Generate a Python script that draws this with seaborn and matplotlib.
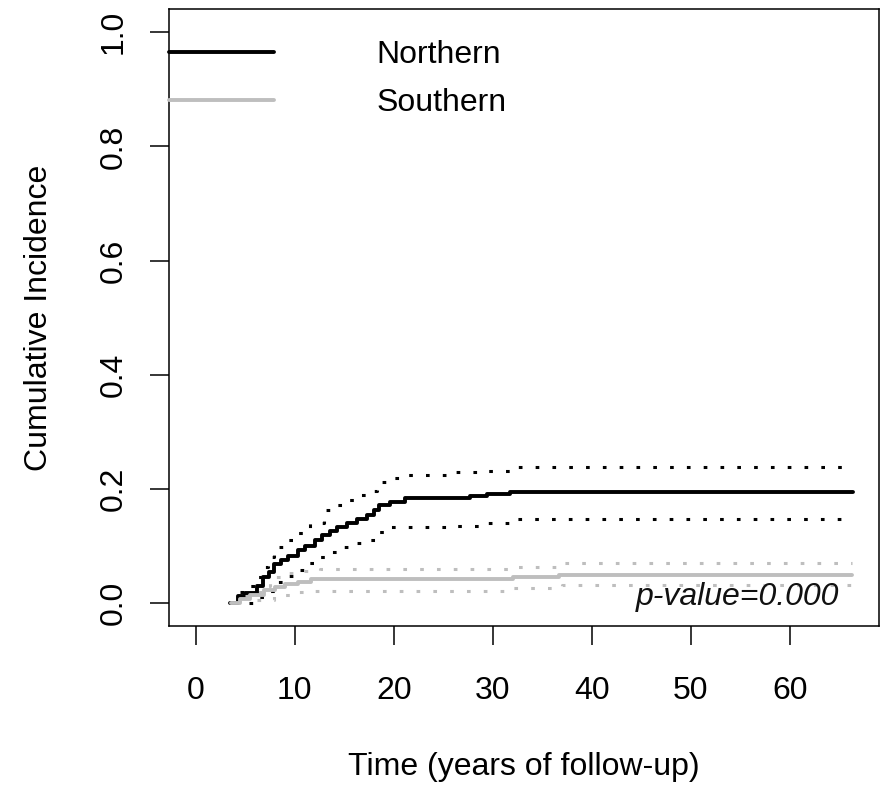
import pandas as pd
import matplotlib
matplotlib.use("Agg")
import matplotlib.pyplot as plt
import seaborn as sns

# Cumulative incidence curves
north_t = [3.5, 4.3, 5.0, 6.2, 6.8, 7.4, 7.9, 8.6, 9.3, 10.3, 11.0, 12.0, 12.8, 13.6, 14.3,
           15.3, 16.3, 17.3, 18.0, 18.5, 19.6, 21.1, 27.7, 29.4, 31.7, 66.4]
north_y = [0.0, 0.012, 0.017, 0.030, 0.045, 0.055, 0.068, 0.075, 0.083, 0.093, 0.100, 0.111,
           0.120, 0.127, 0.134, 0.140, 0.148, 0.155, 0.163, 0.172, 0.178, 0.185, 0.188, 0.192,
           0.195, 0.195]
north_up_t = [4.5, 5.2, 6.0, 6.7, 7.3, 7.9, 9.0, 10.3, 11.5, 13.0, 14.0, 15.0, 16.5, 17.6,
              18.3, 19.6, 21.0, 25.7, 29.0, 32.0, 66.4]
north_up_y = [0.020, 0.030, 0.045, 0.063, 0.080, 0.099, 0.110, 0.123, 0.140, 0.164, 0.172,
              0.181, 0.190, 0.197, 0.213, 0.220, 0.224, 0.229, 0.232, 0.239, 0.239]
north_lo_t = [5.4, 6.4, 7.2, 8.2, 9.2, 10.3, 11.3, 12.3, 13.5, 15.0, 16.0, 17.3, 18.3, 19.6,
              21.1, 26.0, 29.0, 32.0, 66.4]
north_lo_y = [0.0, 0.010, 0.022, 0.037, 0.048, 0.058, 0.070, 0.081, 0.090, 0.099, 0.105,
              0.111, 0.125, 0.134, 0.134, 0.136, 0.141, 0.148, 0.148]

south_t = [3.6, 4.5, 5.5, 6.9, 8.0, 9.0, 10.3, 11.6, 32.0, 36.7, 66.3]
south_y = [0.0, 0.008, 0.015, 0.023, 0.028, 0.033, 0.037, 0.042, 0.046, 0.049, 0.049]
south_up_t = [5.0, 6.5, 7.5, 8.6, 10.5, 12.6, 32.0, 37.0, 66.3]
south_up_y = [0.012, 0.030, 0.045, 0.053, 0.057, 0.060, 0.063, 0.070, 0.070]
south_lo_t = [6.2, 7.9, 9.6, 11.6, 32.0, 37.0, 66.3]
south_lo_y = [0.005, 0.014, 0.019, 0.021, 0.026, 0.032, 0.032]

groups = ["Northern", "Southern"]
x_ticks = [0, 10, 20, 30, 40, 50, 60]
y_ticks = [0.0, 0.2, 0.4, 0.6, 0.8, 1.0]
p_text = "p-value=0.000"

sns.set_style("ticks")
plt.rcParams["font.family"] = ["Liberation Sans", "DejaVu Sans"]
plt.rcParams["font.size"] = 23
plt.rcParams["text.color"] = "black"
plt.rcParams["axes.labelcolor"] = "black"

colors = {"Northern": "black", "Southern": "#BEBEBE"}
curves = {
    "Northern": [(north_t, north_y), (north_up_t, north_up_y), (north_lo_t, north_lo_y)],
    "Southern": [(south_t, south_y), (south_up_t, south_up_y), (south_lo_t, south_lo_y)],
}

fig = plt.figure(figsize=(8.87, 7.87), dpi=100)
ax = fig.add_axes([0.1905, 0.2046, 0.8005, 0.7834])

for g in groups:
    for i, (t, y) in enumerate(curves[g]):
        df = pd.DataFrame({"time": t, "ci": y})
        if i == 0:
            sns.lineplot(data=df, x="time", y="ci", ax=ax, color=colors[g], lw=2.8,
                         estimator=None, sort=False, drawstyle="steps-post", label=g)
        else:
            # confidence bands: R-style dotted lines
            sns.lineplot(data=df, x="time", y="ci", ax=ax, color=colors[g], lw=2.2,
                         estimator=None, sort=False, drawstyle="steps-post")
            ax.lines[-1].set_dashes((1.2, 4.3))

ax.set_xlim(-2.7, 69.0)
ax.set_ylim(-0.04, 1.04)
ax.set_xticks(x_ticks)
ax.set_yticks(y_ticks)
ax.set_xticklabels([str(v) for v in x_ticks])
ax.set_yticklabels([f"{v:.1f}" for v in y_ticks])
ax.tick_params(axis="both", length=14, width=1.1, labelsize=23, colors="black")
ax.tick_params(axis="x", pad=22)
ax.tick_params(axis="y", pad=15, labelrotation=90)
for lab in ax.get_yticklabels():
    lab.set_va("center")
for sp in ax.spines.values():
    sp.set_visible(True)
    sp.set_linewidth(1.1)
    sp.set_color("black")

ax.set_xlabel("Time (years of follow-up)", fontsize=23, labelpad=33)
ax.set_ylabel("Cumulative Incidence", fontsize=23, labelpad=32)

ax.text(65.0, 0.01, p_text, ha="right", va="center", fontsize=23, style="italic", color="#111111")

leg = ax.legend(loc="upper left", bbox_to_anchor=(0.0, 0.95), frameon=False, fontsize=23,
                handlelength=3.3, handletextpad=3.2, borderaxespad=0, borderpad=0,
                labelspacing=0.55)
for h in leg.get_lines():
    h.set_linewidth(2.8)

fig.savefig("out.png", dpi=100)
